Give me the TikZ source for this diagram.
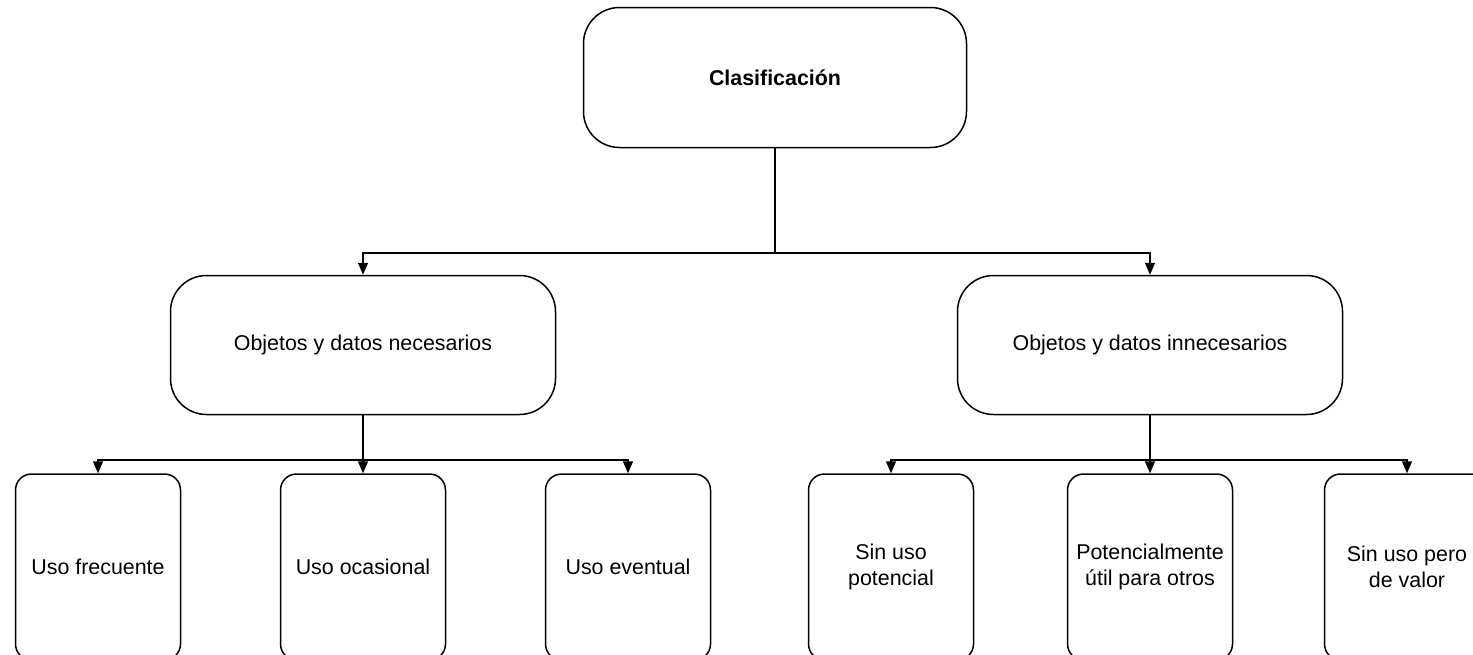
\documentclass[tikz,border=0pt]{standalone}
\usepackage{fontspec}
\setmainfont{Liberation Sans}
\usetikzlibrary{arrows.meta}
\begin{document}
\begin{tikzpicture}[x=1pt,y=-1pt,
  box/.style={draw=black,line width=1.5pt,rounded corners=#1,align=center,
    inner sep=0pt,font=\fontsize{21.4}{26}\selectfont},
  topbox/.style={box=36pt,minimum width=383pt,minimum height=140pt},
  midbox/.style={box=36pt,minimum width=385pt,minimum height=139pt},
  leafbox/.style={box=16pt,minimum width=165pt,minimum height=186pt},
  link/.style={line width=1.5pt,draw=black},
  arr/.style={link,-{Triangle[width=10pt,length=12pt]}}]
  \clip (0,0) rectangle (1473,654);
  % root
  \node[topbox,font=\fontsize{21.4}{26}\selectfont\bfseries] (root) at (775,77.5) {Clasificación};
  % second level
  \node[midbox] (nec) at (363,345) {Objetos y datos necesarios};
  \node[midbox] (inn) at (1150,345) {Objetos y datos innecesarios};
  % leaves
  \node[leafbox] (f) at (98,567) {Uso frecuente};
  \node[leafbox] (o) at (363,567) {Uso ocasional};
  \node[leafbox] (e) at (628,567) {Uso eventual};
  \node[leafbox] (sp) at (891,567) {Sin uso\\potencial};
  \node[leafbox] (pu) at (1150,567) {Potencialmente\\útil para otros};
  \node[leafbox] (sv) at (1407,567) {Sin uso pero\\de valor};
  % junctions
  \coordinate (j0) at (775,253);
  \coordinate (j1) at (363,460);
  \coordinate (j2) at (1150,460);
  % root to second level
  \draw[link] (root.south) -- (j0);
  \draw[arr] (j0) -| (nec.north);
  \draw[arr] (j0) -| (inn.north);
  % necessary branch
  \draw[arr] (nec.south) -- (o.north);
  \draw[arr] (j1) -| (f.north);
  \draw[arr] (j1) -| (e.north);
  % unnecessary branch
  \draw[arr] (inn.south) -- (pu.north);
  \draw[arr] (j2) -| (sp.north);
  \draw[arr] (j2) -| (sv.north);
\end{tikzpicture}
\end{document}
